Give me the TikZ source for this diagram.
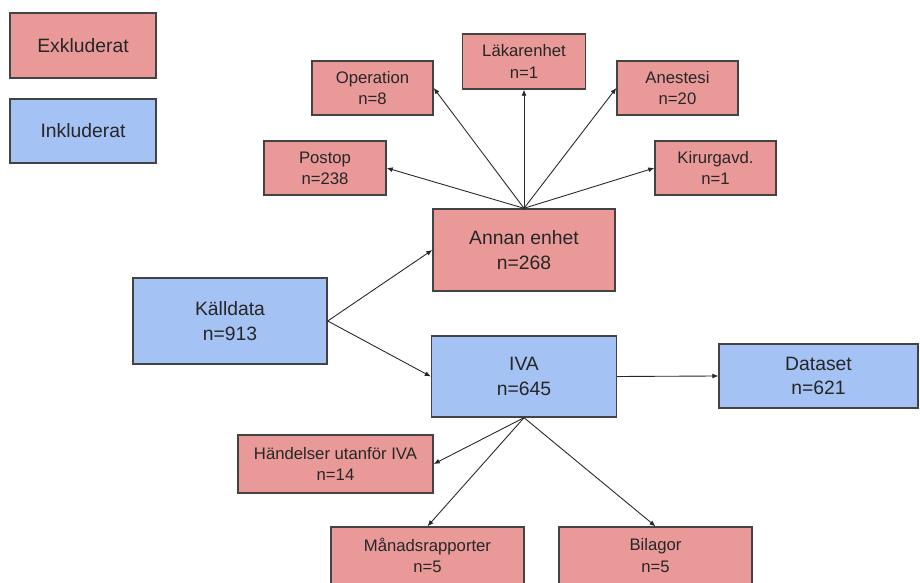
\documentclass[tikz,border=0pt]{standalone}
\usepackage{fontspec}
\setmainfont{Liberation Sans}
\usetikzlibrary{arrows.meta}
\definecolor{cExcl}{HTML}{EA9999}
\definecolor{cIncl}{HTML}{A4C2F4}
\definecolor{cLine}{HTML}{434343}
\tikzset{
	excl/.style ={rectangle, draw=cLine, line width=0.8pt, fill=cExcl, align=center, text=black!85, inner sep=2pt},
	incl/.style ={rectangle, draw=cLine, line width=0.8pt, fill=cIncl, align=center, text=black!85, inner sep=2pt},
	big/.style  ={font=\fontsize{11}{14}\selectfont},
	small/.style={font=\fontsize{9.5}{12}\selectfont},
	box/.style 2 args={minimum width=#1, minimum height=#2},
	conn/.style ={-{Latex[length=1.2mm, width=1mm]}, line width=0.5pt, draw=black!85},
}
\begin{document}
\begin{tikzpicture}
	\useasboundingbox (0,0) rectangle (18.4,11.64);
	% legend
	\node[excl, big, box={2.92cm}{1.30cm}] (legex) at (1.66,10.73) {Exkluderat};
	\node[incl, big, box={2.92cm}{1.28cm}] (legin) at (1.66,9.02) {Inkluderat};
	% main flow
	\node[incl, big, box={3.88cm}{1.72cm}] (kall) at (4.60,5.22) {Källdata\\n=913};
	\node[excl, big, box={3.64cm}{1.64cm}] (annan) at (10.48,6.64) {Annan enhet\\n=268};
	\node[incl, big, box={3.70cm}{1.62cm}] (iva) at (10.48,4.11) {IVA\\n=645};
	\node[incl, big, box={3.98cm}{1.28cm}] (dataset) at (16.37,4.12) {Dataset\\n=621};
	% other units
	\node[excl, small, box={2.44cm}{1.08cm}] (postop) at (6.50,8.28) {Postop\\n=238};
	\node[excl, small, box={2.42cm}{1.08cm}] (oper) at (7.45,9.88) {Operation\\n=8};
	\node[excl, small, box={2.46cm}{1.10cm}] (lakar) at (10.48,10.41) {Läkarenhet\\n=1};
	\node[excl, small, box={2.42cm}{1.08cm}] (anest) at (13.55,9.88) {Anestesi\\n=20};
	\node[excl, small, box={2.42cm}{1.08cm}] (kirurg) at (14.31,8.28) {Kirurgavd.\\n=1};
	% removed from IVA
	\node[excl, small, box={3.90cm}{1.16cm}] (handel) at (6.71,2.36) {Händelser utanför IVA\\n=14};
	\node[excl, small, box={3.86cm}{1.14cm}] (manad) at (8.55,0.53) {Månadsrapporter\\n=5};
	\node[excl, small, box={3.86cm}{1.14cm}] (bilag) at (13.11,0.53) {Bilagor\\n=5};
	% arrows
	\draw[conn] (kall.east) -- (annan.west);
	\draw[conn] (kall.east) -- (iva.west);
	\draw[conn] (iva.east) -- (dataset.west);
	\foreach \u/\a in {postop/east, oper/east, lakar/south, anest/west, kirurg/west}
		\draw[conn] (annan.north) -- (\u.\a);
	\foreach \u/\a in {handel/east, manad/north, bilag/north}
		\draw[conn] (iva.south) -- (\u.\a);
\end{tikzpicture}
\end{document}
